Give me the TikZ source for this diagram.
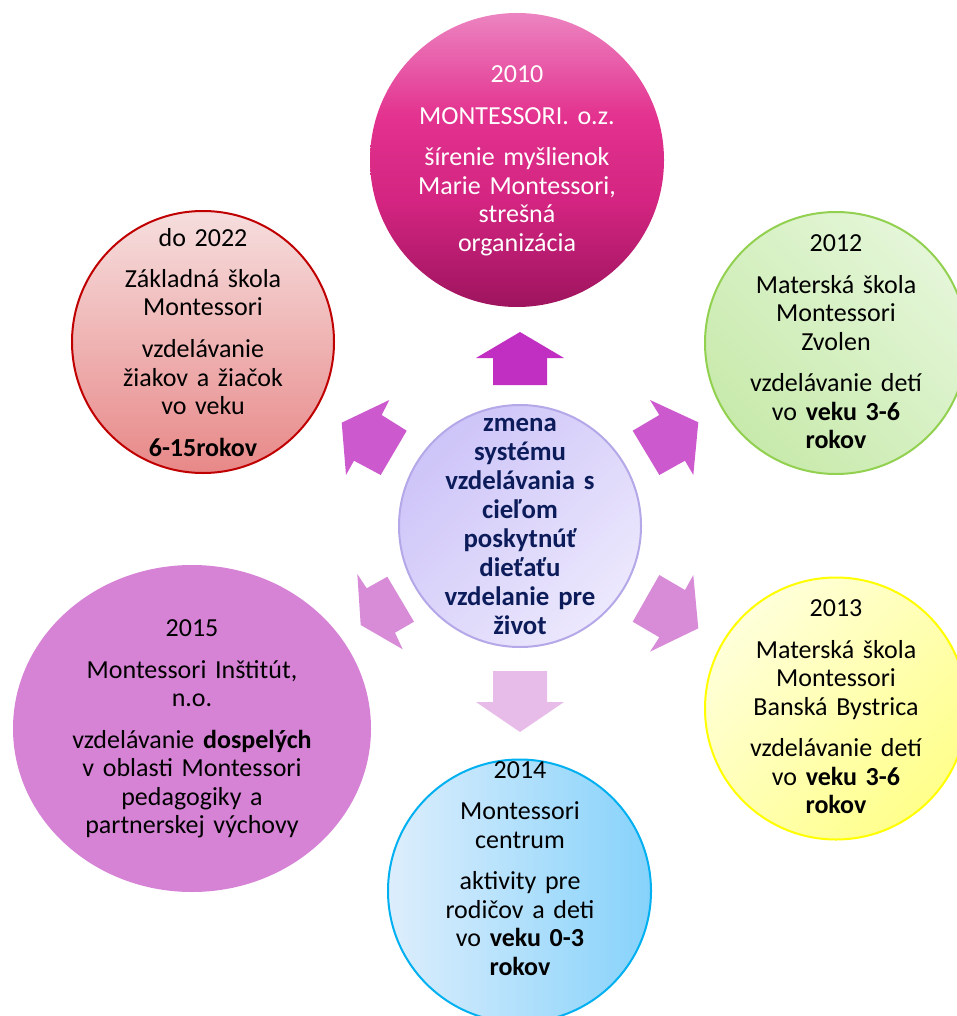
\documentclass[tikz,border=0pt]{standalone}
\usepackage{fontspec}
\setmainfont{Carlito}
\usetikzlibrary{shapes.geometric}
\definecolor{pinkA}{RGB}{236,132,192}
\definecolor{pinkB}{RGB}{227,50,143}
\definecolor{pinkM}{RGB}{210,36,128}
\definecolor{pinkC}{RGB}{158,20,94}
\definecolor{redA}{RGB}{246,222,222}
\definecolor{redB}{RGB}{232,136,136}
\definecolor{redD}{RGB}{192,0,0}
\definecolor{greenA}{RGB}{228,246,216}
\definecolor{greenB}{RGB}{200,234,172}
\definecolor{greenD}{RGB}{146,208,80}
\definecolor{yelA}{RGB}{255,255,218}
\definecolor{yelB}{RGB}{255,255,140}
\definecolor{yelD}{RGB}{255,255,0}
\definecolor{blueA}{RGB}{221,238,252}
\definecolor{blueB}{RGB}{134,210,251}
\definecolor{blueD}{RGB}{0,176,240}
\definecolor{lavA}{RGB}{205,196,248}
\definecolor{lavB}{RGB}{236,232,253}
\definecolor{lavD}{RGB}{180,168,232}
\definecolor{purp}{RGB}{214,131,214}
\definecolor{navy}{RGB}{12,28,90}
\definecolor{arrUp}{RGB}{192,47,194}
\definecolor{arrHi}{RGB}{204,90,206}
\definecolor{arrLo}{RGB}{216,140,216}
\definecolor{arrDn}{RGB}{232,188,232}
\pgfdeclareverticalshading{topdisk}{100bp}{color(0bp)=(pinkC); color(25bp)=(pinkC); color(42.5bp)=(pinkM); color(57.5bp)=(pinkB); color(75bp)=(pinkA); color(100bp)=(pinkA)}
\begin{document}
\begin{tikzpicture}[x=1pt,y=-1pt,
  disk/.style={circle, inner sep=0pt, line width=2pt},
  txt/.style={text width=340pt, align=center, anchor=base, inner sep=0pt,
    font=\fontsize{26}{28.5}\selectfont},
  ctxt/.style={txt, text=navy, font=\fontsize{26.8}{29}\selectfont\bfseries}]
\useasboundingbox (0,0) rectangle (957,1016);
\clip (0,0) rectangle (957,1016);
% circles
\node[disk, minimum size=294pt, shading=topdisk] (c2010) at (517,160) {};
\node[disk, minimum size=262pt, draw=redD, top color=redA, bottom color=redB] (c2022) at (203,342) {};
\node[disk, minimum size=262pt, draw=greenD, top color=greenA, bottom color=greenB, shading angle=-45] (c2012) at (836,343) {};
\node[disk, minimum size=262pt, draw=yelD, top color=yelA, bottom color=yelB, shading angle=45] (c2013) at (836,708.5) {};
\node[disk, minimum size=263pt, draw=blueD, left color=blueA, right color=blueB] (c2014) at (519.5,891) {};
\node[ellipse, inner sep=0pt, minimum width=358pt, minimum height=327pt, fill=purp] (c2015) at (192,728.5) {};
\node[disk, minimum size=242pt, draw=lavD, top color=lavA, bottom color=lavB, shading angle=45] (hub) at (520,526) {};
% block arrows
\fill[arrUp] (520,332) -- (564,358) -- (547,358) -- (547,385) -- (493,385) -- (493,358) -- (476,358) -- cycle;
\fill[arrDn] (493,671) -- (547,671) -- (547,702) -- (564,702) -- (520,732) -- (476,702) -- (493,702) -- cycle;
\fill[arrHi] (341.7,422.7) -- (389.3,400) -- (381.7,415) -- (406.7,430.7) -- (380.7,475) -- (354,460.7) -- (346,475) -- cycle;
\fill[arrHi] (698.3,422.3) -- (650,400) -- (659.3,415) -- (632.7,430.7) -- (659.3,475) -- (685,460.7) -- (693.3,475) -- cycle;
\fill[arrLo] (360.7,625) -- (357.3,574) -- (366.7,588.3) -- (387.3,576.7) -- (414,621.7) -- (395,632.7) -- (402.7,649.3) -- cycle;
\fill[arrLo] (698.3,628.3) -- (693.3,575) -- (685,590) -- (659.3,575) -- (632.7,621.7) -- (659.3,637.3) -- (650,651.7) -- cycle;
% texts
\node[txt, text=white] (t2010) at (517,83) {2010\\[13pt] MONTESSORI. o.z.\\[13pt] šírenie myšlienok\\ Marie Montessori,\\ strešná\\ organizácia};
\node[txt] (t2022) at (203,246) {do 2022\\[13pt] Základná škola\\ Montessori\\[13pt] vzdelávanie\\ žiakov a žiačok\\ vo veku\\[13pt] \textbf{6-15rokov}};
\node[txt] (t2012) at (836,251.8) {2012\\[13pt] Materská škola\\ Montessori\\ Zvolen\\[13pt] vzdelávanie detí\\ vo \textbf{veku 3-6}\\ \textbf{rokov}};
\node[txt] (t2013) at (836,616.6) {2013\\[13pt] Materská škola\\ Montessori\\ Banská Bystrica\\[13pt] vzdelávanie detí\\ vo \textbf{veku 3-6}\\ \textbf{rokov}};
\node[txt] (t2014) at (520,778) {2014\\[13pt] Montessori\\ centrum\\[13pt] aktivity pre\\ rodičov a deti\\ vo \textbf{veku 0-3}\\ \textbf{rokov}};
\node[txt] (t2015) at (192,636.7) {2015\\[13pt] Montessori Inštitút,\\ n.o.\\[13pt] vzdelávanie \textbf{dospelých}\\ v oblasti Montessori\\ pedagogiky a\\ partnerskej výchovy};
\node[ctxt] (thub) at (520,431.7) {zmena\\ systému\\ vzdelávania s\\ cieľom\\ poskytnúť\\ dieťaťu\\ vzdelanie pre\\ život};
\end{tikzpicture}
\end{document}
